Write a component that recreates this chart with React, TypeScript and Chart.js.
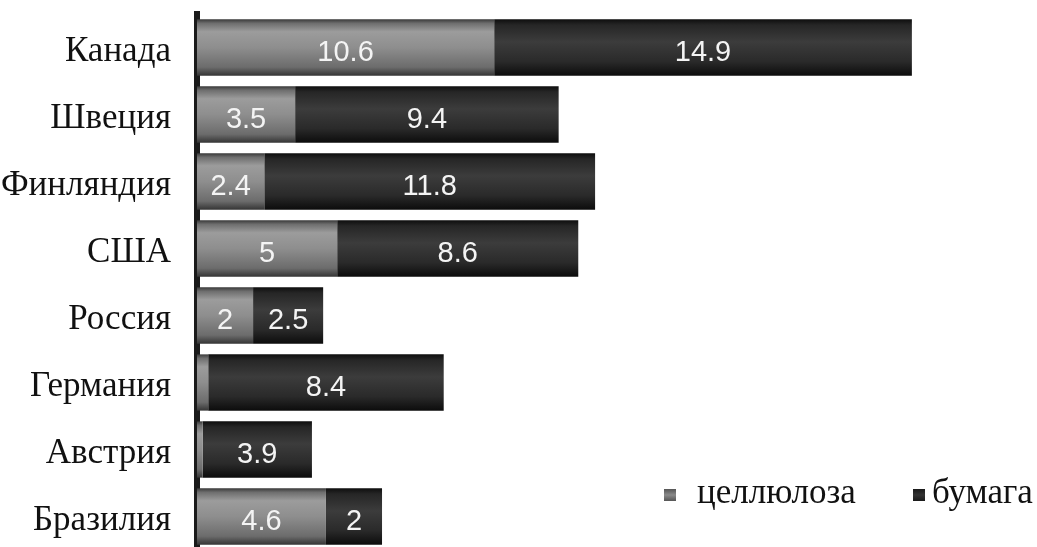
import React, { useEffect, useRef } from "react";
import { Chart, registerables } from "chart.js";

Chart.register(...registerables);

const categories = ["Канада", "Швеция", "Финляндия", "США", "Россия", "Германия", "Австрия", "Бразилия"];
const cellulose = [10.6, 3.5, 2.4, 5, 2, 0.4, 0.2, 4.6];
const paper = [14.9, 9.4, 11.8, 8.6, 2.5, 8.4, 3.9, 2];
const seriesNames = ["целлюлоза", "бумага"];

const W = 1037;
const H = 552;
const BAR_PCT = 0.84;

function makeGradient(chart: any, dataIndex: number, stops: [number, string][], fallback: string) {
  const area = chart.chartArea;
  const ys = chart.scales && chart.scales.y;
  if (!area || !ys) return fallback;
  const c = ys.getPixelForValue(dataIndex);
  const band = (area.bottom - area.top) / categories.length;
  const h = band * BAR_PCT;
  const g = chart.ctx.createLinearGradient(0, c - h / 2, 0, c + h / 2);
  stops.forEach(([o, col]) => g.addColorStop(o, col));
  return g;
}

const lightStops: [number, string][] = [
  [0, "#3a3a3a"],
  [0.07, "#6e6e6e"],
  [0.22, "#9c9c9c"],
  [0.5, "#8e8e8e"],
  [0.85, "#6c6c6c"],
  [1, "#353535"],
];
const darkStops: [number, string][] = [
  [0, "#0e0e0e"],
  [0.1, "#262626"],
  [0.4, "#3c3c3c"],
  [0.75, "#2a2a2a"],
  [1, "#0c0c0c"],
];

const valueLabels = {
  id: "valueLabels",
  afterDatasetsDraw(chart: any) {
    const ctx = chart.ctx;
    ctx.save();
    ctx.font = '29px "Liberation Sans", Arial, sans-serif';
    ctx.fillStyle = "#f4f4f4";
    ctx.textAlign = "center";
    ctx.textBaseline = "middle";
    chart.data.datasets.forEach((ds: any, di: number) => {
      const meta = chart.getDatasetMeta(di);
      meta.data.forEach((el: any, i: number) => {
        const v = ds.data[i];
        if (v < 1) return;
        const x = (el.x + el.base) / 2;
        ctx.fillText(String(v), x, el.y + 5);
      });
    });
    ctx.restore();
  },
};

const customLegend = {
  id: "customLegend",
  afterDraw(chart: any) {
    const ctx = chart.ctx;
    ctx.save();
    const items = [
      { mx: 664, tx: 697, fill: "#8a8a8a", edge: "#555555", text: seriesNames[0] },
      { mx: 913, tx: 932, fill: "#333333", edge: "#1a1a1a", text: seriesNames[1] },
    ];
    const my = 489;
    const ms = 12;
    items.forEach((it) => {
      const g = ctx.createLinearGradient(0, my, 0, my + ms);
      g.addColorStop(0, it.edge);
      g.addColorStop(0.5, it.fill);
      g.addColorStop(1, it.edge);
      ctx.fillStyle = g;
      ctx.fillRect(it.mx, my, ms, ms);
      ctx.fillStyle = "#111111";
      ctx.font = '35px "Liberation Serif", "Times New Roman", serif';
      ctx.textAlign = "left";
      ctx.textBaseline = "alphabetic";
      ctx.fillText(it.text, it.tx, 503);
    });
    ctx.restore();
  },
};

export default function App() {
  const ref = useRef<HTMLCanvasElement | null>(null);
  useEffect(() => {
    if (!ref.current) return;
    const chart = new Chart(ref.current, {
      type: "bar",
      data: {
        labels: categories,
        datasets: [
          {
            label: seriesNames[0],
            data: cellulose,
            backgroundColor: (ctx: any) => makeGradient(ctx.chart, ctx.dataIndex, lightStops, "#8a8a8a"),
            barPercentage: BAR_PCT,
            categoryPercentage: 1,
            borderWidth: 0,
          },
          {
            label: seriesNames[1],
            data: paper,
            backgroundColor: (ctx: any) => makeGradient(ctx.chart, ctx.dataIndex, darkStops, "#2e2e2e"),
            barPercentage: BAR_PCT,
            categoryPercentage: 1,
            borderWidth: 0,
          },
        ],
      },
      options: {
        indexAxis: "y",
        responsive: false,
        animation: false,
        devicePixelRatio: 1,
        layout: { padding: { top: 14, bottom: 2, right: 27, left: 0 } },
        plugins: {
          legend: { display: false },
          tooltip: { enabled: false },
        },
        scales: {
          x: {
            stacked: true,
            display: false,
            min: 0,
            max: 29,
          },
          y: {
            stacked: true,
            grid: { display: false, drawTicks: false },
            border: { display: true, color: "#1a1a1a", width: 6 },
            ticks: {
              color: "#111111",
              padding: 26,
              labelOffset: 4,
              font: { family: '"Liberation Serif", "Times New Roman", serif', size: 35 },
            },
            afterFit: (scale: any) => {
              scale.width = 197;
              scale.paddingTop = 0;
              scale.paddingBottom = 0;
            },
          },
        },
      },
      plugins: [valueLabels, customLegend],
    });
    return () => chart.destroy();
  }, []);
  return (
    <div style={{ position: "absolute", left: 0, top: 0, width: W, height: H, background: "#ffffff" }}>
      <canvas ref={ref} width={W} height={H} style={{ width: W, height: H, display: "block" }} />
    </div>
  );
}
